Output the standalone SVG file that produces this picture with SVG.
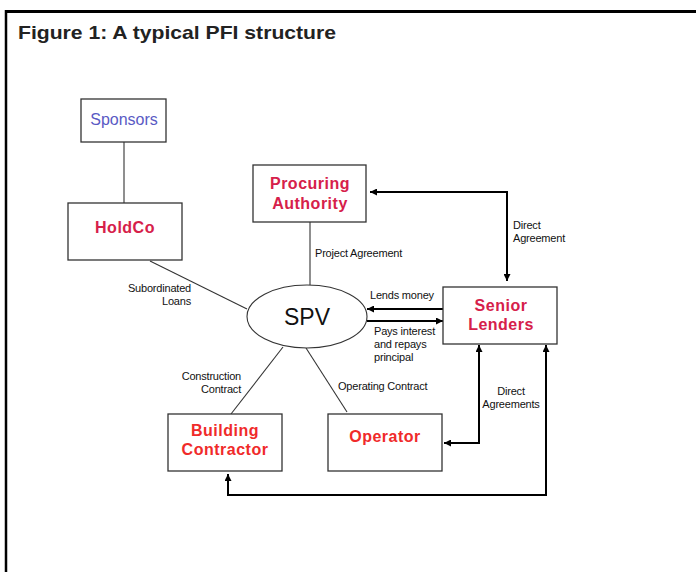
<svg xmlns="http://www.w3.org/2000/svg" width="696" height="572" viewBox="0 0 696 572">
<style>
.box{fill:#fff;stroke:#333;stroke-width:1.3}
.ln{stroke:#333;stroke-width:1.1;fill:none}
.ar{stroke:#000;stroke-width:2;fill:none}
.lbl{font-family:"Liberation Sans",Arial,sans-serif;font-size:11px;fill:#111;letter-spacing:-0.2px}
.nb{font-family:"Liberation Sans",Arial,sans-serif;font-size:16px;font-weight:bold;fill:#d6204a;letter-spacing:0.5px;text-anchor:middle}
.nr{font-family:"Liberation Sans",Arial,sans-serif;font-size:16px;font-weight:bold;fill:#f02a2a;letter-spacing:0.5px;text-anchor:middle}
</style>
<defs>
<marker id="ah" viewBox="0 0 10 10" refX="10" refY="5" markerWidth="7" markerHeight="7" markerUnits="userSpaceOnUse" orient="auto">
<path d="M0,0 L10,5 L0,10 z" fill="#000"/>
</marker>
</defs>
<rect width="696" height="572" fill="#fff"/>
<g id="frame">
<line x1="5" y1="11.5" x2="696" y2="11.5" stroke="#000" stroke-width="3"/>
<line x1="6" y1="10" x2="6" y2="572" stroke="#000" stroke-width="2.5"/>
<text x="18" y="39" font-family="Liberation Sans,Arial,sans-serif" font-size="19" font-weight="bold" fill="#222" textLength="318" lengthAdjust="spacingAndGlyphs">Figure 1: A typical PFI structure</text>
</g>
<g id="connectors">
<line class="ln" x1="124" y1="142" x2="124" y2="203"/>
<line class="ln" x1="150" y1="261" x2="247" y2="309"/>
<line class="ln" x1="310" y1="222" x2="310" y2="285"/>
<line class="ln" x1="283" y1="347" x2="231" y2="414"/>
<line class="ln" x1="306" y1="348" x2="347" y2="412"/>
<polyline class="ar" points="507,281 507,192 370,192" marker-end="url(#ah)"/>
<line class="ar" x1="507" y1="200" x2="507" y2="281" marker-end="url(#ah)"/>
<line class="ar" x1="443" y1="309" x2="367" y2="309" marker-end="url(#ah)"/>
<line class="ar" x1="367" y1="321" x2="443" y2="321" marker-end="url(#ah)"/>
<polyline class="ar" points="444,443 479,443 479,345" marker-end="url(#ah)"/>
<line class="ar" x1="470" y1="443" x2="444" y2="443" marker-end="url(#ah)"/>
<polyline class="ar" points="228,474 228,495 546,495 546,345" marker-end="url(#ah)"/>
<line class="ar" x1="228" y1="485" x2="228" y2="474" marker-end="url(#ah)"/>
<text class="lbl" x="315" y="257">Project Agreement</text>
<text class="lbl" x="513" y="229">Direct</text>
<text class="lbl" x="513" y="242">Agreement</text>
<text class="lbl" x="191" y="292" text-anchor="end">Subordinated</text>
<text class="lbl" x="191" y="305" text-anchor="end">Loans</text>
<text class="lbl" x="370" y="299">Lends money</text>
<text class="lbl" x="374" y="335">Pays interest</text>
<text class="lbl" x="374" y="348">and repays</text>
<text class="lbl" x="374" y="361">principal</text>
<text class="lbl" x="241" y="380" text-anchor="end">Construction</text>
<text class="lbl" x="241" y="393" text-anchor="end">Contract</text>
<text class="lbl" x="338" y="390">Operating Contract</text>
<text class="lbl" x="511" y="395" text-anchor="middle">Direct</text>
<text class="lbl" x="511" y="408" text-anchor="middle">Agreements</text>
</g>
<g id="sponsors">
<rect class="box" x="81" y="99" width="85" height="43"/>
<text x="124" y="125" font-family="Liberation Sans,Arial,sans-serif" font-size="16" fill="#5a5ac4" text-anchor="middle">Sponsors</text>
</g>
<g id="holdco">
<rect class="box" x="68" y="203" width="114" height="57"/>
<text class="nb" x="125" y="233">HoldCo</text>
</g>
<g id="procuring">
<rect class="box" x="253" y="165" width="113" height="57"/>
<text class="nb" x="310" y="189">Procuring</text>
<text class="nb" x="310" y="209">Authority</text>
</g>
<g id="spv">
<ellipse cx="307" cy="316.5" rx="60" ry="31.5" fill="#fff" stroke="#333" stroke-width="1.1"/>
<text x="307" y="325" font-family="Liberation Sans,Arial,sans-serif" font-size="23" fill="#111" text-anchor="middle">SPV</text>
</g>
<g id="lenders">
<rect class="box" x="443" y="287" width="114" height="57"/>
<text class="nb" x="501" y="311">Senior</text>
<text class="nb" x="501" y="330">Lenders</text>
</g>
<g id="building">
<rect class="box" x="168" y="414" width="114" height="57"/>
<text class="nr" x="225" y="436">Building</text>
<text class="nr" x="225" y="455">Contractor</text>
</g>
<g id="operator">
<rect class="box" x="328" y="414" width="114" height="57"/>
<text class="nr" x="385" y="442">Operator</text>
</g>
</svg>
